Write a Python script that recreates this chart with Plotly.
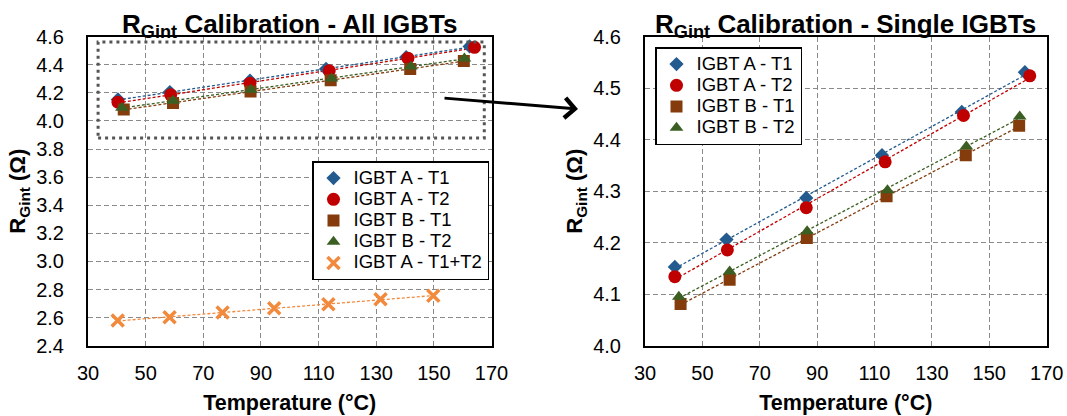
import numpy as np
import plotly.graph_objects as go

# ---------------- data ----------------
a_t1_x = [40.4, 58.4, 86.2, 112.6, 140.4, 162.4]
a_t1_y = [4.153, 4.206, 4.287, 4.370, 4.454, 4.531]

a_t2_x = [40.4, 58.7, 86.2, 113.7, 141.0, 164.1]
a_t2_y = [4.134, 4.186, 4.268, 4.357, 4.447, 4.524]

b_t1_x = [42.4, 59.5, 86.4, 114.2, 141.8, 160.4]
b_t1_y = [4.081, 4.128, 4.209, 4.290, 4.370, 4.427]

b_t2_x = [41.8, 59.5, 86.5, 114.5, 142.0, 160.6]
b_t2_y = [4.095, 4.144, 4.222, 4.302, 4.387, 4.445]

a_t12_x = [40.3, 58.3, 76.7, 94.6, 113.4, 131.5, 149.8]
a_t12_y = [2.579, 2.602, 2.636, 2.667, 2.695, 2.731, 2.755]

x_ticks = [30, 50, 70, 90, 110, 130, 150, 170]

series = [
    ("IGBT A - T1", a_t1_x, a_t1_y, "#245B8F", "diamond", 11),
    ("IGBT A - T2", a_t2_x, a_t2_y, "#C00000", "circle", 13),
    ("IGBT B - T1", b_t1_x, b_t1_y, "#843C0C", "square", 12),
    ("IGBT B - T2", b_t2_x, b_t2_y, "#3B5F22", "triangle-up", 12),
]
orange = "#F28A3E"

FW, FH = 1067, 416

def px(x):
    return x / FW

def py(y):
    return 1 - y / FH

L_dom = [px(88), px(491.5)]
R_dom = [px(645), px(1046.7)]
Y_dom = [py(345.7), py(36.7)]

fig = go.Figure()

def trend(xs, ys):
    k, b = np.polyfit(xs, ys, 1)
    xx = np.array([min(xs), max(xs)])
    return xx, k * xx + b

def lg(name):
    return '<span style="font-size:18.5px">' + name + '</span>'

for xa, ya, leg in (("x", "y", "legend"), ("x2", "y2", "legend2")):
    for name, xs, ys, col, sym, sz in series:
        tx, ty = trend(xs, ys)
        fig.add_trace(go.Scatter(x=tx, y=ty, mode="lines", xaxis=xa, yaxis=ya,
                                 line=dict(color=col, width=1.3, dash="3px,2px"),
                                 showlegend=False, hoverinfo="skip"))
    for name, xs, ys, col, sym, sz in series:
        fig.add_trace(go.Scatter(x=xs, y=ys, mode="markers", name=lg(name), xaxis=xa, yaxis=ya,
                                 legend=leg,
                                 marker=dict(symbol=sym, size=sz, color=col, line=dict(width=0))))
    if xa == "x":
        tx, ty = trend(a_t12_x, a_t12_y)
        fig.add_trace(go.Scatter(x=tx, y=ty, mode="lines", xaxis=xa, yaxis=ya,
                                 line=dict(color=orange, width=1.3, dash="3px,2px"),
                                 showlegend=False, hoverinfo="skip"))
        fig.add_trace(go.Scatter(x=a_t12_x, y=a_t12_y, mode="markers", name=lg("IGBT A - T1+T2"),
                                 xaxis=xa, yaxis=ya, legend=leg,
                                 marker=dict(symbol="x-thin", size=12, color=orange,
                                             line=dict(width=3.5, color=orange))))

font_main = "Arial, Liberation Sans, sans-serif"
common_x = dict(range=[30, 170], tickvals=x_ticks, showgrid=True, gridcolor="#8A8A8A",
                griddash="5px,3px", gridwidth=1, zeroline=False, showline=True,
                linecolor="black", linewidth=2, mirror=True, ticks="", automargin=False,
                ticklabelstandoff=8, tickfont=dict(size=20, color="black"),
                title=dict(text="<b>Temperature (°C)</b>", font=dict(size=21.5, color="black"),
                           standoff=12))
common_y = dict(showgrid=True, gridcolor="#8A8A8A", griddash="5px,3px", gridwidth=1,
                zeroline=False, showline=True, linecolor="black", linewidth=2, mirror=True,
                ticks="", ticklabelstandoff=18, tickformat=".1f", automargin=False,
                tickfont=dict(size=20, color="black"),
                title=dict(text="<b>R<sub>Gint</sub> (Ω)</b>", font=dict(size=22, color="black"),
                           standoff=4))

leg_common = dict(xanchor="left", yanchor="top", bgcolor="white", bordercolor="black",
                  borderwidth=1.5, font=dict(size=14, color="black"), itemwidth=30,
                  tracegroupgap=0)

fig.update_layout(
    width=FW, height=FH, autosize=False,
    margin=dict(l=0, r=0, t=0, b=0, autoexpand=False),
    paper_bgcolor="white", plot_bgcolor="white",
    font=dict(family=font_main, color="black"),
    xaxis=dict(domain=L_dom, anchor="y", **common_x),
    yaxis=dict(domain=Y_dom, anchor="x", range=[2.4, 4.6], dtick=0.2, **common_y),
    xaxis2=dict(domain=R_dom, anchor="y2", **common_x),
    yaxis2=dict(domain=Y_dom, anchor="x2", range=[4.0, 4.6], dtick=0.1, **common_y),
    legend=dict(x=px(312), y=py(161), **leg_common),
    legend2=dict(x=px(655), y=py(47), **leg_common),
)

# dotted highlight rectangle
fig.add_shape(type="rect", xref="x", yref="y", x0=33.5, x1=167.5, y0=3.879, y1=4.562,
              line=dict(color="#555555", width=3, dash="3px,4px"), fillcolor="rgba(0,0,0,0)")

# titles
for cx, txt in ((sum(L_dom) / 2, "<b>R<sub>Gint</sub> Calibration - All IGBTs</b>"),
                (sum(R_dom) / 2, "<b>R<sub>Gint</sub> Calibration - Single IGBTs</b>")):
    fig.add_annotation(x=cx, y=py(25), xref="paper", yref="paper", text=txt,
                       showarrow=False, xanchor="center", yanchor="middle",
                       font=dict(size=26, color="black"))

# arrow
fig.add_annotation(x=px(578), y=py(109), xref="paper", yref="paper", text="",
                   showarrow=True, ax=-135, ay=-11, arrowhead=4, arrowsize=1.3,
                   arrowwidth=3, arrowcolor="black")

fig.write_html("out.html",
               config={"displayModeBar": False},
               post_script="document.body.style.margin='0px';"
                           "document.body.style.overflow='hidden';")
